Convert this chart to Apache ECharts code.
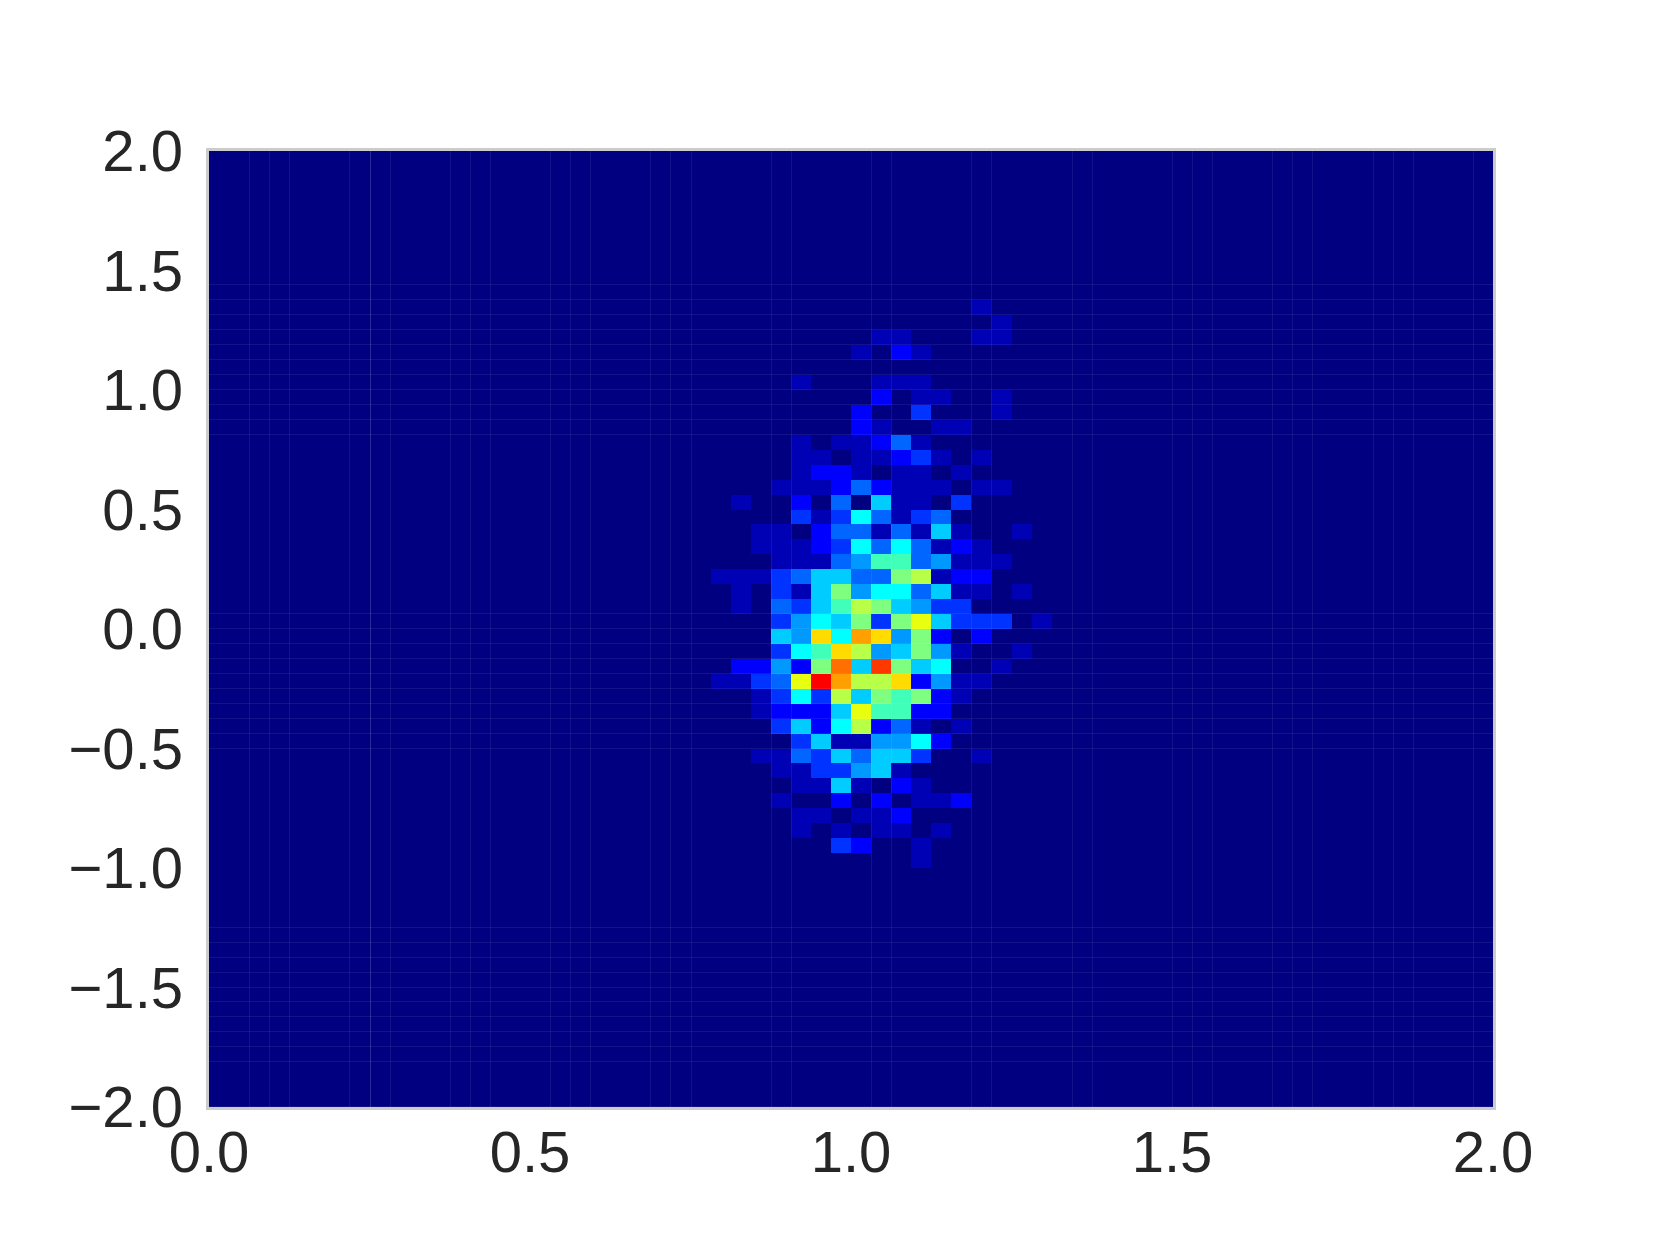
<!DOCTYPE html>
<html>
<head>
<meta charset="utf-8">
<title>2D histogram</title>
<style>
  html, body { margin: 0; padding: 0; background: #fff; }
  #main { width: 1660px; height: 1245px; }
</style>
<script src="https://cdn.jsdelivr.net/npm/echarts@6/dist/echarts.min.js"></script>
</head>
<body>
<div id="main"></div>
<script>
// histogram bins
const binCount = 64;
const xRange = [0, 2];
const yRange = [-2, 2];
const xTicks = [0, 0.5, 1, 1.5, 2];
const yTicks = [-2, -1.5, -1, -0.5, 0, 0.5, 1, 1.5, 2];

// counts. first row below is bin 10 from the top, first column is bin 25
const firstRow = 10;
const firstCol = 25;
const counts = [
  [0,0,0,0,0,0,0,0,0,0,0,0,0,1,0,0,0],
  [0,0,0,0,0,0,0,0,0,0,0,0,0,0,1,0,0],
  [0,0,0,0,0,0,0,0,1,1,0,0,0,1,1,0,0],
  [0,0,0,0,0,0,0,1,0,2,1,0,0,0,0,0,0],
  [0,0,0,0,0,0,0,0,0,0,0,0,0,0,0,0,0],
  [0,0,0,0,1,0,0,0,1,1,1,0,0,0,0,0,0],
  [0,0,0,0,0,0,0,0,2,0,1,1,0,0,1,0,0],
  [0,0,0,0,0,0,0,2,0,0,3,0,0,0,1,0,0],
  [0,0,0,0,0,0,0,2,1,0,0,1,1,0,0,0,0],
  [0,0,0,0,1,0,1,1,2,4,1,0,0,0,0,0,0],
  [0,0,0,0,1,1,0,1,1,2,3,1,0,1,0,0,0],
  [0,0,0,0,1,2,2,1,0,1,1,0,1,0,0,0,0],
  [0,0,0,1,1,1,2,4,2,1,1,1,0,1,1,0,0],
  [0,1,0,0,2,0,4,0,6,1,1,0,3,0,0,0,0],
  [0,0,0,0,3,1,3,7,4,1,3,4,0,0,0,0,0],
  [0,0,1,1,0,2,4,4,1,4,1,6,1,0,0,1,0],
  [0,0,1,1,1,2,3,7,4,7,4,1,2,1,0,0,0],
  [0,0,0,1,1,1,4,5,8,8,4,5,1,1,1,0,0],
  [1,1,1,3,4,6,6,4,4,9,10,1,2,2,0,0,0],
  [0,1,0,3,1,6,9,5,7,7,4,6,1,1,0,1,0],
  [0,1,0,4,3,6,8,10,9,6,5,3,3,0,0,0,0],
  [0,0,0,3,5,7,6,9,3,9,11,6,3,3,3,0,1],
  [0,0,0,6,5,12,7,13,12,5,9,2,0,2,0,0,0],
  [0,0,0,3,7,8,12,10,5,6,9,5,1,0,0,1,0],
  [0,2,2,5,2,9,14,6,15,9,6,7,0,0,1,0,0],
  [1,1,3,4,11,16,13,10,10,12,2,5,1,1,0,0,0],
  [0,0,1,3,7,3,10,6,9,8,9,2,1,0,0,0,0],
  [0,0,1,2,2,2,6,11,8,8,2,2,0,0,0,0,0],
  [0,0,0,3,6,2,7,10,2,4,1,0,1,0,0,0,0],
  [0,0,0,0,3,6,1,1,5,5,7,2,0,0,0,0,0],
  [0,0,1,1,4,3,6,4,6,6,3,0,0,1,0,0,0],
  [0,0,0,1,1,3,3,5,6,1,0,0,0,0,0,0,0],
  [0,0,0,0,1,1,6,1,0,2,1,0,0,0,0,0,0],
  [0,0,0,1,0,0,2,0,2,0,1,1,2,0,0,0,0],
  [0,0,0,0,1,1,0,1,1,2,0,0,0,0,0,0,0],
  [0,0,0,0,1,0,1,0,1,1,0,1,0,0,0,0,0],
  [0,0,0,0,0,0,3,2,0,0,1,0,0,0,0,0,0],
  [0,0,0,0,0,0,0,0,0,0,1,0,0,0,0,0,0]
];

// faint seams between bins, as bin edge numbers
const seamCols = [2,3,4,7,8,9,12,13,14,17,18,19,22,23,24,28,29,33,34,38,39,43,44,48,49,50,53,54,55,58,59,60,63];
const seamRows = [9,10,11,12,13,14,15,16,17,18,19,31,32,33,34,35,36,37,38,39,40,52,53,54,55,56,57,58,59,60,61,64];
const strongSeamCols = [8];

// jet steps for the count levels 0-16
const jetColors = [
  "#000080", "#0000B4", "#0000FF", "#0033FF", "#0066FF", "#0099FF", "#00CCFF", "#00FFFF", "#40FFB8",
  "#7FFF7F", "#B8FF47", "#E8FF10", "#FFDB00", "#FFA000", "#FF7000", "#FF3800", "#FF0000"
];

const binW = (xRange[1] - xRange[0]) / binCount;
const binH = (yRange[1] - yRange[0]) / binCount;

// every bin as [x low edge, y low edge, count]
const cells = [];
for (let row = 0; row < binCount; row++) {
  for (let col = 0; col < binCount; col++) {
    const line = counts[row - firstRow] || [];
    const value = line[col - firstCol] || 0;
    cells.push([xRange[0] + col * binW, yRange[1] - (row + 1) * binH, value]);
  }
}

const seams = [];
seamCols.forEach((edge) => {
  seams.push(["v", xRange[0] + edge * binW, strongSeamCols.includes(edge) ? 1 : 0]);
});
seamRows.forEach((edge) => {
  seams.push(["h", yRange[1] - edge * binH, 0]);
});

const tickLabel = (v) => v.toFixed(1).replace("-", "\u2212");

const myChart = echarts.init(document.getElementById("main"));

const option = {
  animation: false,
  backgroundColor: "#fff",
  textStyle: { fontFamily: "Liberation Sans" },
  grid: {
    show: true,
    left: 209,
    top: 151,
    width: 1284,
    height: 956,
    backgroundColor: jetColors[0],
    borderColor: "#CCCCCC",
    borderWidth: 6, // inner half is covered by the cells
  },
  xAxis: {
    type: "value",
    min: xRange[0],
    max: xRange[1],
    interval: xTicks[1] - xTicks[0],
    axisLine: { show: false },
    axisTick: { show: false },
    splitLine: { show: false },
    axisLabel: {
      color: "#262626",
      fontFamily: "Liberation Sans",
      fontSize: 58,
      margin: 20,
      formatter: tickLabel,
    },
  },
  yAxis: {
    type: "value",
    min: yRange[0],
    max: yRange[1],
    interval: yTicks[1] - yTicks[0],
    axisLine: { show: false },
    axisTick: { show: false },
    splitLine: { show: false },
    axisLabel: {
      color: "#262626",
      fontFamily: "Liberation Sans",
      fontSize: 58,
      margin: 26,
      // the picture sits these labels a little below the tick
      verticalAlign: "top",
      lineHeight: 8,
      formatter: tickLabel,
    },
  },
  visualMap: {
    show: false,
    type: "continuous",
    min: 0,
    max: jetColors.length - 1,
    dimension: 2,
    seriesIndex: 0,
    inRange: { color: jetColors },
  },
  series: [
    {
      type: "custom",
      progressive: 0,
      clip: false,
      encode: { x: 0, y: 1 },
      data: cells,
      renderItem: (params, api) => {
        const a = api.coord([api.value(0), api.value(1) + binH]);
        const b = api.coord([api.value(0) + binW, api.value(1)]);
        const x0 = Math.round(a[0]);
        const y0 = Math.round(a[1]);
        return {
          type: "rect",
          shape: { x: x0, y: y0, width: Math.round(b[0]) - x0, height: Math.round(b[1]) - y0 },
          style: { fill: api.visual("color") },
        };
      },
    },
    {
      type: "custom",
      progressive: 0,
      clip: false,
      z: 3,
      encode: { x: 1 },
      data: seams,
      renderItem: (params, api) => {
        const vertical = seams[params.dataIndex][0] === "v";
        const pos = api.value(1);
        const p0 = vertical ? api.coord([pos, yRange[0]]) : api.coord([xRange[0], pos]);
        const p1 = vertical ? api.coord([pos, yRange[1]]) : api.coord([xRange[1], pos]);
        const px = vertical ? Math.round(p0[0]) : Math.round(p0[1]);
        const shape = vertical
          ? { x1: px + 0.5, y1: p0[1], x2: px + 0.5, y2: p1[1] }
          : { x1: p0[0], y1: px - 0.5, x2: p1[0], y2: px - 0.5 };
        return {
          type: "line",
          shape: shape,
          style: {
            stroke: "#ffffff",
            lineWidth: 1,
            opacity: api.value(2) ? 0.17 : 0.07,
          },
        };
      },
    },
  ],
};

myChart.setOption(option);
window.addEventListener("resize", function () {
  myChart.resize();
});
</script>
</body>
</html>
